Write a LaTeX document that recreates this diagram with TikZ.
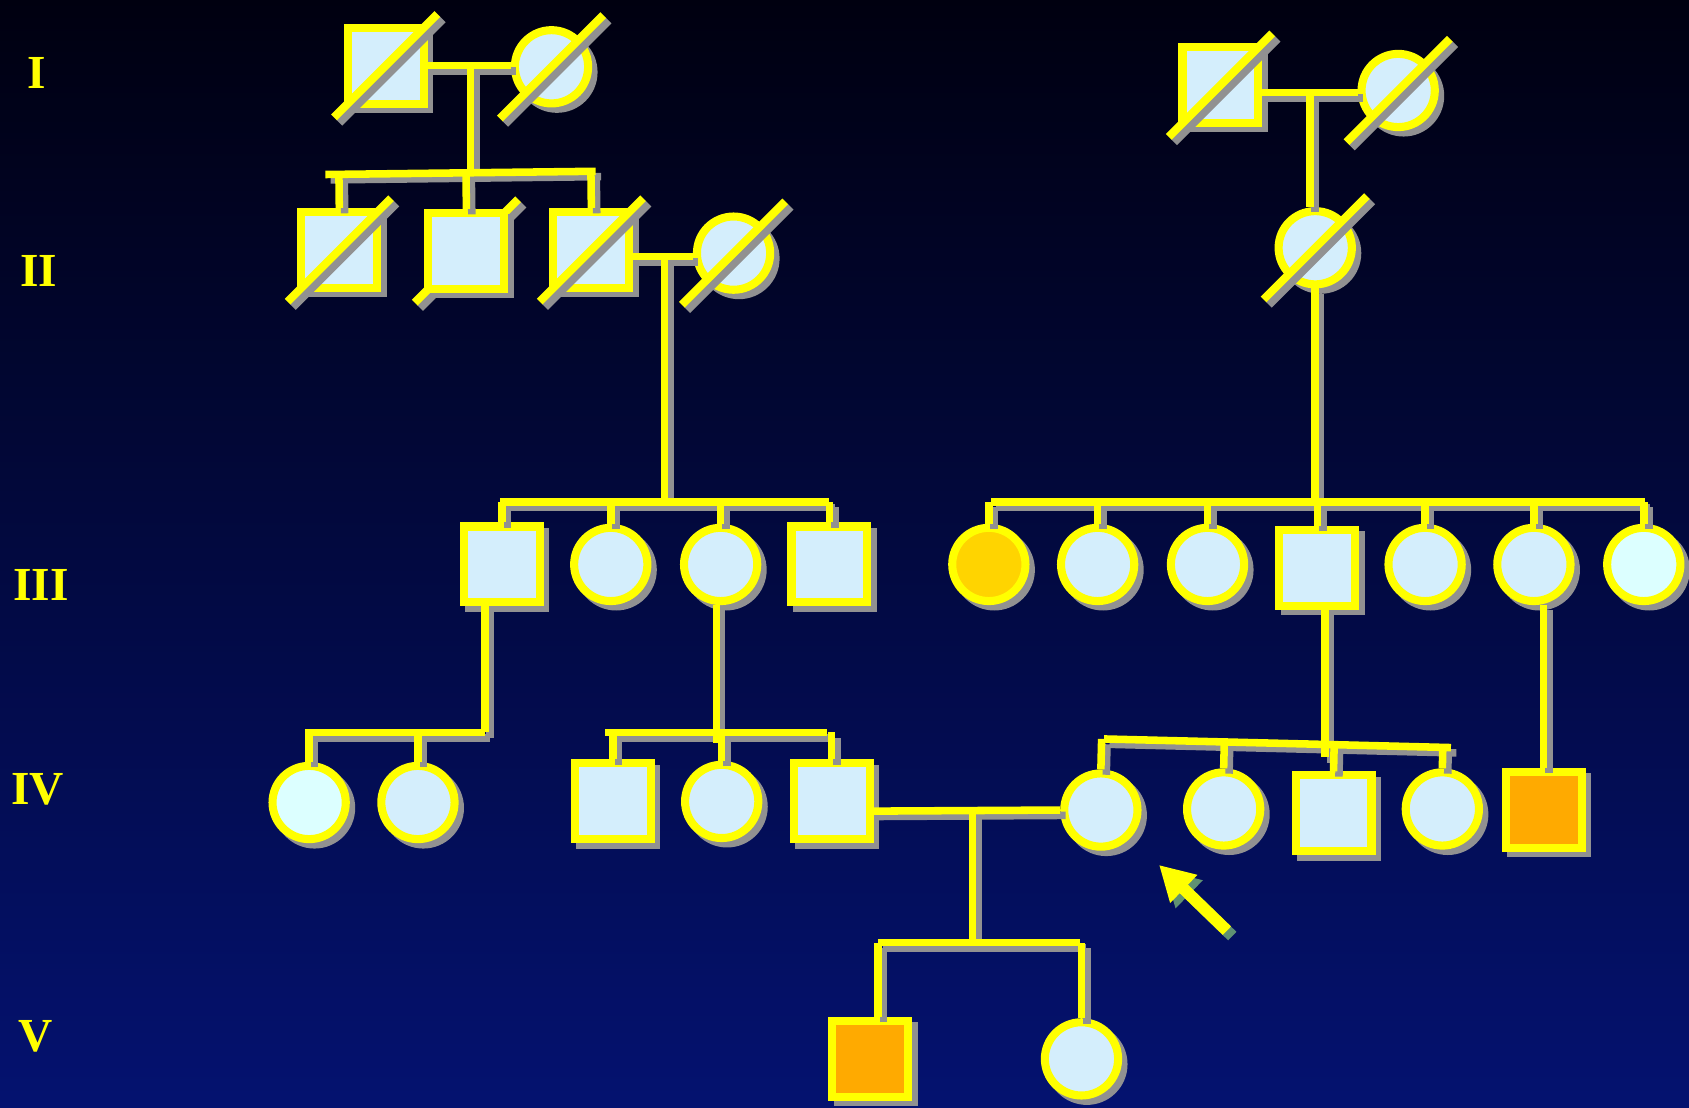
\documentclass[tikz,border=0pt]{standalone}
\usepackage{fontspec}
\setmainfont{Liberation Serif}
\usetikzlibrary{shadows,arrows.meta,calc}
\definecolor{bgtop}{RGB}{0,0,16}
\definecolor{bgbot}{RGB}{4,18,112}
\definecolor{pedyel}{RGB}{255,255,0}
\definecolor{pedfill}{RGB}{212,238,252}
\definecolor{pedpale}{RGB}{220,255,255}
\definecolor{pedgold}{RGB}{255,212,0}
\definecolor{pedorange}{RGB}{255,170,0}
\definecolor{pedshadow}{RGB}{145,145,145}
\definecolor{arrshadow}{RGB}{95,145,115}
\tikzset{
  base/.style={draw=pedyel, line width=7.5pt, fill=pedfill, inner sep=0pt,
    drop shadow={shadow xshift=5pt, shadow yshift=-5pt, fill=pedshadow, draw=pedshadow, line width=7.5pt, opacity=1}},
  male/.style={base, rectangle, minimum size=70.5pt},
  female/.style={base, circle, minimum size=68pt},
  yline/.style={draw=pedyel, line width=7pt},
  sline/.style={draw=pedshadow, line width=7pt},
  gen/.style={text=pedyel, font=\fontsize{44}{44}\selectfont\bfseries},
}
\newcommand\pedslash[1]{%
  \draw[pedshadow, line width=7.5pt] ($(#1)+(-43,53)$) -- ($(#1)+(53,-43)$);
  \draw[pedyel, line width=7.5pt] ($(#1)+(-48,48)$) -- ($(#1)+(48,-48)$);}
\newcommand\pedconnectors[1]{%
  % generation I left
  \draw[#1] (S1.east) -- (C1.west |- S1.east);
  \draw[#1] (d1) -- (j1);
  \draw[#1] (s1a) -- (s1b);
  \draw[#1] (II1.north) -- ($(s1a)!(II1.north)!(s1b)$);
  \draw[#1] (II2.north) -- ($(s1a)!(II2.north)!(s1b)$);
  \draw[#1] (II3.north) -- ($(s1a)!(II3.north)!(s1b)$);
  % II3 x II4
  \draw[#1] (II3.east |- d2) -- (II4.west |- d2);
  \draw[#1] (d2) -- (j2);
  \draw[#1] (s2a) -- (s2b);
  \draw[#1] (III1.north) -- (III1.north |- s2a);
  \draw[#1] (III2.north) -- (III2.north |- s2a);
  \draw[#1] (III3.north) -- (III3.north |- s2a);
  \draw[#1] (III4.north) -- (III4.north |- s2a);
  % generation I right
  \draw[#1] (R1.east |- d3) -- (R2.west |- d3);
  \draw[#1] (d3) -- (d3 |- R3.north);
  \draw[#1] (j3 |- R3.south) -- (j3);
  \draw[#1] (s3a) -- (s3b);
  \foreach \n in {III5,III6,III7,III8,III9,III10,III11}
    {\draw[#1] (\n.north) -- (\n.north |- s3a);}
  % III1 children
  \draw[#1] (III1.south -| j4) -- (j4);
  \draw[#1] (s4a) -- (j4);
  \draw[#1] (IV1.north) -- (IV1.north |- j4);
  \draw[#1] (IV2.north) -- (IV2.north |- j4);
  % III3 children
  \draw[#1] (III3.south -| j5) -- ([yshift=-10pt]j5);
  \draw[#1] (s5a) -- (s5b);
  \draw[#1] (IV3.north) -- (IV3.north |- s5a);
  \draw[#1] (IV4.north) -- (IV4.north |- s5a);
  \draw[#1] (IV5.north) -- (IV5.north |- s5a);
  % IV5 x IV6
  \draw[#1] (IV5.east |- d6) -- (IV6.west);
  \draw[#1] (d6) -- (j6);
  \draw[#1] (s6a) -- (s6b);
  \draw[#1] (V1.north -| s6a) -- (s6a);
  \draw[#1] (V2.north) -- (V2.north |- s6b);
  % III8 children
  \draw[#1] (III8.south -| j7) -- (j7);
  \draw[#1] (s7a) -- (s7b);
  \foreach \n in {IV6,IV7,IV8,IV9}
    {\draw[#1] (\n.north) -- ($(s7a)!(\n.north)!(s7b)$);}
  % III10 child
  \draw[#1] (IV10.north |- III10.south) -- (IV10.north);
}
\begin{document}
\begin{tikzpicture}[x=1pt,y=-1pt]
\fill[top color=bgtop, bottom color=bgbot] (0,0) rectangle (1568,1028);
\useasboundingbox (0,0) rectangle (1568,1028);
% generation labels
\node[gen] (gI) at (34,68) {I};
\node[gen] (gII) at (36,252) {II};
\node[gen] (gIII) at (38,543) {III};
\node[gen] (gIV) at (35,733) {IV};
\node[gen] (gV) at (33,962) {V};
% junction coordinates
\coordinate (d1) at (437,61);
\coordinate (j1) at (437,161);
\coordinate (s1a) at (302,162);
\coordinate (s1b) at (553,159);
\coordinate (d2) at (617,238);
\coordinate (j2) at (617,466);
\coordinate (s2a) at (464,466);
\coordinate (s2b) at (770,466);
\coordinate (d3) at (1216,86);
\coordinate (j3) at (1221,466);
\coordinate (s3a) at (920,466);
\coordinate (s3b) at (1527,466);
\coordinate (j4) at (450,680);
\coordinate (s4a) at (283,680);
\coordinate (j5) at (665,680);
\coordinate (s5a) at (562,680);
\coordinate (s5b) at (768,680);
\coordinate (d6) at (903,753);
\coordinate (j6) at (903,875);
\coordinate (s6a) at (815,875);
\coordinate (s6b) at (1003,875);
\coordinate (j7) at (1230,703);
\coordinate (s7a) at (1025,686);
\coordinate (s7b) at (1347,694);
% generation I
\node[male] (S1) at (358,61) {}; \pedslash{S1}
\node[female] (C1) at (512,62) {}; \pedslash{C1}
\node[male] (R1) at (1133,79) {}; \pedslash{R1}
\node[female] (R2) at (1298,84) {}; \pedslash{R2}
% generation II
\node[male] (II1) at (315,232) {}; \pedslash{II1}
\coordinate (II2c) at (433,233); \pedslash{II2c}
\node[male] (II2) at (II2c) {};
\node[male] (II3) at (549,232) {}; \pedslash{II3}
\node[female] (II4) at (681,235) {}; \pedslash{II4}
\node[female] (R3) at (1221,230) {}; \pedslash{R3}
% generation III
\node[male] (III1) at (466,524) {};
\node[female] (III2) at (567,524) {};
\node[female] (III3) at (669,524) {};
\node[male] (III4) at (770,524) {};
\node[female, fill=pedgold] (III5) at (918,524) {};
\node[female] (III6) at (1019,524) {};
\node[female] (III7) at (1121,524) {};
\node[male] (III8) at (1223,527) {};
\node[female] (III9) at (1323,524) {};
\node[female] (III10) at (1424,524) {};
\node[female, fill=pedpale] (III11) at (1526,524) {};
% generation IV
\node[female, fill=pedpale] (IV1) at (287,745) {};
\node[female] (IV2) at (388,745) {};
\node[male] (IV3) at (569,744) {};
\node[female] (IV4) at (670,744) {};
\node[male] (IV5) at (772,744) {};
\node[female] (IV6) at (1022,752) {};
\node[female] (IV7) at (1136,751) {};
\node[male] (IV8) at (1238,755) {};
\node[female] (IV9) at (1339,751) {};
\node[male, fill=pedorange] (IV10) at (1433,752) {};
% generation V
\node[male, fill=pedorange] (V1) at (808,983) {};
\node[female] (V2) at (1004,983) {};
% connectors: shadows first, then yellow
\begin{scope}[transform canvas={shift={(5pt,-5pt)}}]
\pedconnectors{sline}
\end{scope}
\pedconnectors{yline}
% proband arrow
\coordinate (arrT) at (1139,864);
\coordinate (arrH) at (1076,803);
\draw[arrshadow, line width=11pt, -{Triangle[length=32pt,width=34pt]}] ([shift={(5,5)}]arrT) -- ([shift={(5,5)}]arrH);
\draw[pedyel, line width=11pt, -{Triangle[length=32pt,width=34pt]}] (arrT) -- (arrH);
\end{tikzpicture}
\end{document}
